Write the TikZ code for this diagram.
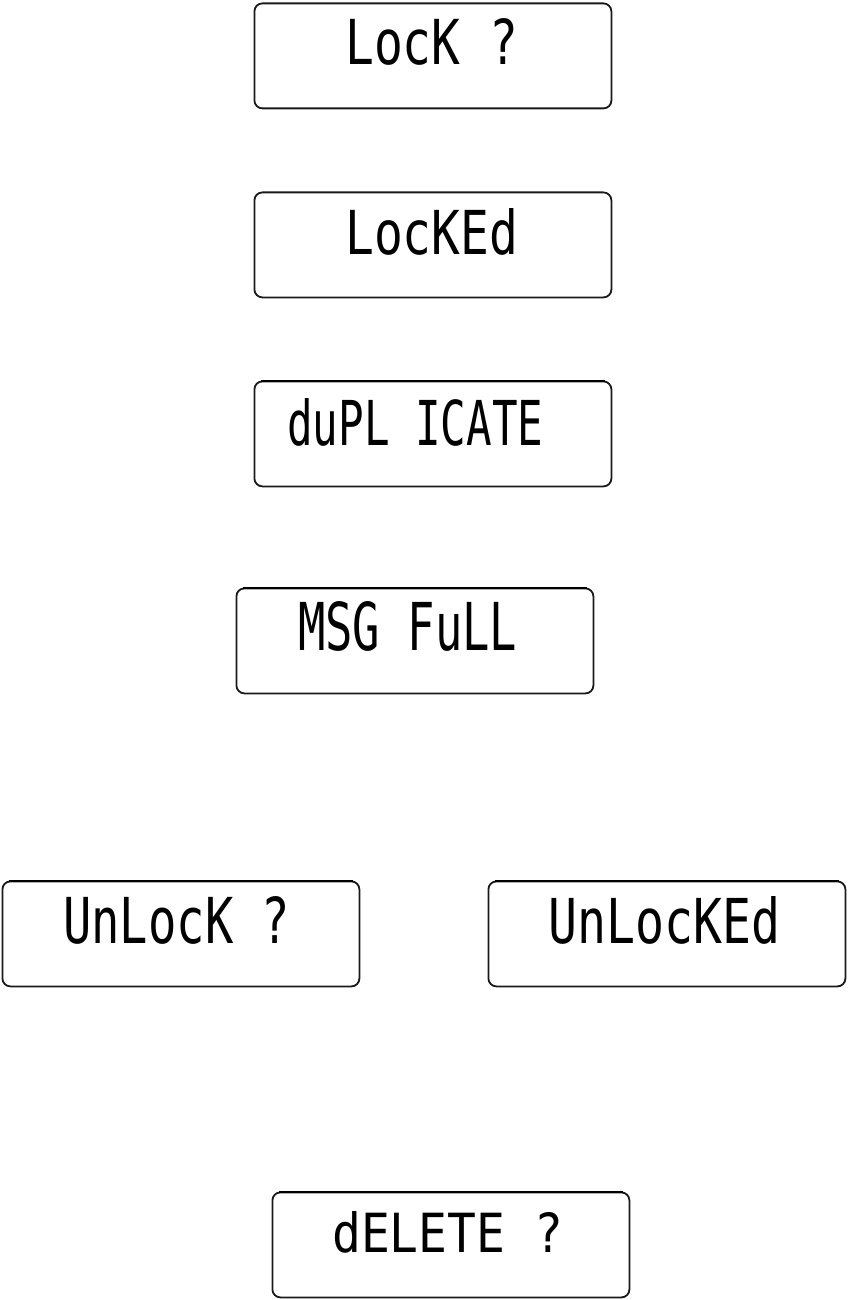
\documentclass[tikz,border=0pt]{standalone}
\usepackage{fontspec}
\usepackage{graphicx}
\newfontfamily\lcdfont{DejaVu Sans Mono}
\newcommand\lcdtext[3]{\resizebox{#1pt}{#2pt}{\lcdfont #3}}
\begin{document}
\begin{tikzpicture}[x=1pt,y=-1pt,
  lcdbox/.style={draw=black!90,line width=1.8pt,rounded corners=8pt,minimum width=357pt,minimum height=105pt,inner sep=0pt,anchor=north west},
  lcdlabel/.style={inner sep=0pt,anchor=south west},
  topedge/.style={line width=2.6pt,black}]
\useasboundingbox (0,0) rectangle (847,1300);
% boxes
\node[lcdbox] (b1) at (253.5,2.5) {};
\node[lcdbox] (b2) at (253.5,191.5) {};
\node[lcdbox] (b3) at (253.5,380.5) {};
\node[lcdbox] (b4) at (235.5,587.5) {};
\node[lcdbox] (b5) at (1.5,880.5) {};
\node[lcdbox] (b6) at (487.5,880.5) {};
\node[lcdbox] (b7) at (271.5,1191.5) {};
% darker top edges
\foreach \b in {b3,b4,b5,b6,b7}{
  \draw[topedge] ([xshift=7pt,yshift=-0.3pt]\b.north west) -- ([xshift=-7pt,yshift=-0.3pt]\b.north east);
}
% texts
\node[lcdlabel] (t1) at (345,66) {\lcdtext{173}{46}{LocK ?}};
\node[lcdlabel] (t2) at (345,256) {\lcdtext{173}{46}{LocKEd}};
\node[lcdlabel] (t3) at (287,447) {\lcdtext{256}{47}{duPL ICATE}};
\node[lcdlabel] (t4) at (298,652) {\lcdtext{219}{49}{MSG FuLL}};
\node[lcdlabel] (t5) at (63,945) {\lcdtext{227}{47}{UnLocK ?}};
\node[lcdlabel] (t6) at (548,945) {\lcdtext{232}{47}{UnLocKEd}};
\node[lcdlabel] (t7) at (332,1253) {\lcdtext{231}{41}{dELETE ?}};
\end{tikzpicture}
\end{document}
